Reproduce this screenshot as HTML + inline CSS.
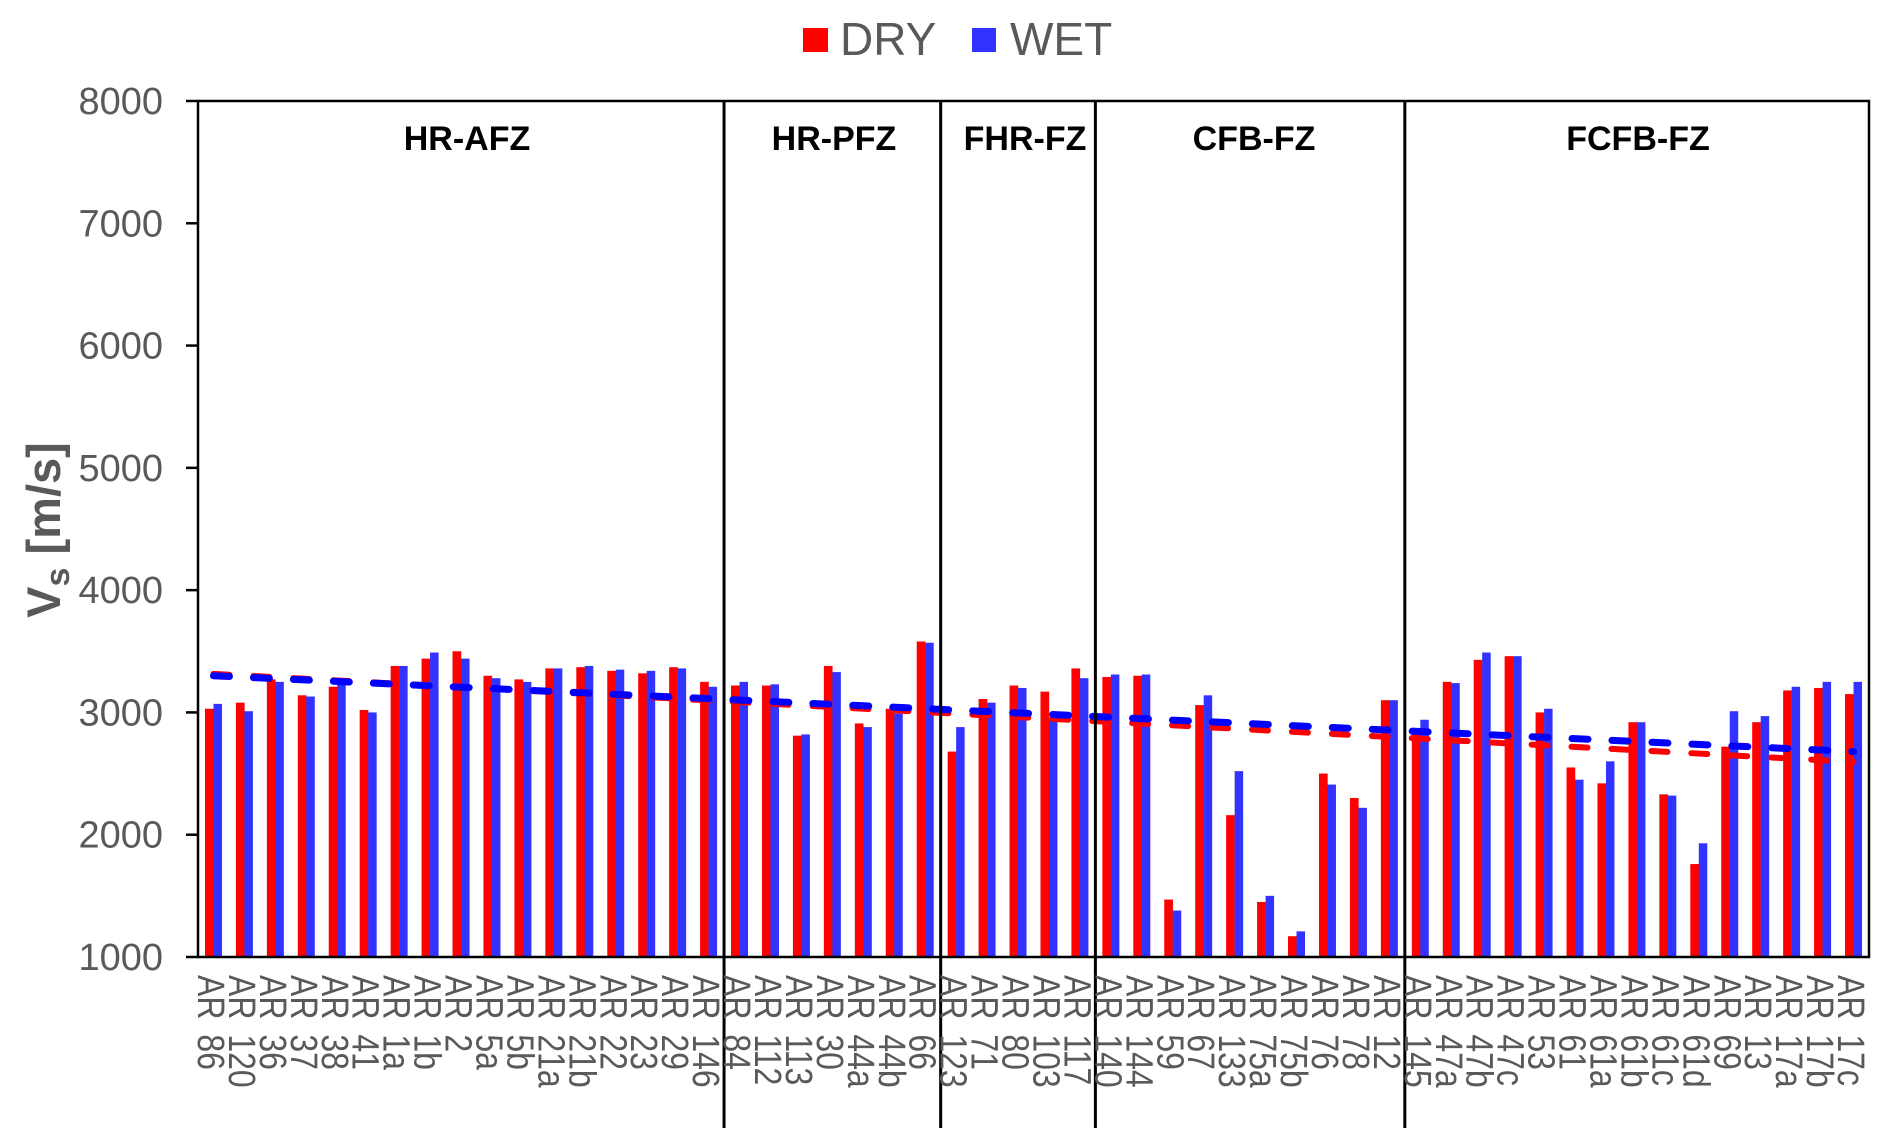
<!DOCTYPE html>
<html><head><meta charset="utf-8"><style>
html,body{margin:0;padding:0;background:#fff;}
svg{display:block;font-family:"Liberation Sans",Arial,sans-serif;}
</style></head><body>
<svg id="c" width="1892" height="1148" viewBox="0 0 1892 1148" xmlns="http://www.w3.org/2000/svg">
<rect width="1892" height="1148" fill="#fff"/>
<rect x="803" y="28" width="25" height="24" fill="#ff0000"/>
<text x="840" y="55" font-size="46" fill="#595959">DRY</text>
<rect x="972" y="28" width="24" height="24" fill="#3333ff"/>
<text x="1010" y="55" font-size="46" fill="#595959">WET</text>
<g id="bars"></g>
<g id="trend"></g>
<rect x="198" y="101" width="1671" height="856" fill="none" stroke="#000" stroke-width="2.5"/>
<g id="ticks"></g>
<g id="labels" font-size="32" fill="#595959"></g>
<g font-size="34" font-weight="bold" text-anchor="middle" fill="#000">
<text x="467" y="150">HR-AFZ</text>
<text x="834" y="150">HR-PFZ</text>
<text x="1025" y="150">FHR-FZ</text>
<text x="1254" y="150">CFB-FZ</text>
<text x="1638" y="150">FCFB-FZ</text>
</g>
<text transform="translate(60,530) rotate(-90)" text-anchor="middle" font-size="47" font-weight="bold" fill="#595959">V<tspan font-size="34" dy="9">s</tspan><tspan dy="-9"> [m/s]</tspan></text>
</svg>
<script>
const names=["86","120","36","37","38","41","1a","1b","2","5a","5b","21a","21b","22","23","29","146","84","112","113","30","44a","44b","66","123","71","80","103","117","140","144","59","67","133","75a","75b","76","78","12","145","47a","47b","47c","53","61","61a","61b","61c","61d","69","13","17a","17b","17c"];
const dry=[3030,3080,3270,3140,3210,3020,3380,3440,3500,3300,3270,3360,3370,3340,3320,3370,3250,3220,3220,2810,3380,2910,3030,3580,2680,3110,3220,3170,3360,3290,3300,1470,3060,2160,1450,1170,2500,2300,3100,2870,3250,3430,3460,3000,2550,2420,2920,2330,1760,2720,2920,3180,3200,3150];
const wet=[3070,3010,3250,3130,3240,3000,3380,3490,3440,3280,3250,3360,3380,3350,3340,3360,3210,3250,3230,2820,3330,2880,2990,3570,2880,3080,3200,2960,3280,3310,3310,1380,3140,2520,1500,1210,2410,2220,3100,2940,3240,3490,3460,3030,2450,2600,2920,2320,1930,3010,2970,3210,3250,3250];
const NS="http://www.w3.org/2000/svg";
const L=198,R=1869,B=957,T=101,n=54,w=(R-L)/n;
const Y=v=>B-(v-1000)*(B-T)/7000;
function el(t,a,p){const e=document.createElementNS(NS,t);for(const k in a)e.setAttribute(k,a[k]);p.appendChild(e);return e;}
const bars=document.getElementById('bars'),lab=document.getElementById('labels'),tk=document.getElementById('ticks'),tr=document.getElementById('trend');
for(let i=0;i<n;i++){const c=L+w*(i+0.5);
el('rect',{x:c-8.5,y:Y(dry[i]),width:8.7,height:B-Y(dry[i]),fill:'#ff0000'},bars);
el('rect',{x:c,y:Y(wet[i]),width:8.5,height:B-Y(wet[i]),fill:'#3333ff'},bars);
const t=el('text',{transform:`translate(${c-2},975) rotate(90) scale(1,1.2)`,dy:'0.35em','word-spacing':'6'},lab);t.textContent='AR '+names[i];}
for(let v=1000;v<=8000;v+=1000){el('line',{x1:186,x2:198,y1:Y(v),y2:Y(v),stroke:'#000','stroke-width':2.5},tk);
const t=el('text',{x:163,y:Y(v)+13,'text-anchor':'end','font-size':38,fill:'#595959'},tk);t.textContent=v;}
[17,24,29,39].forEach(k=>{const x=L+w*k;el('line',{x1:x,x2:x,y1:T,y2:1128,stroke:'#000','stroke-width':3},tk);});
const x0=L+w*0.5,x1=L+w*(n-0.5);
el('line',{x1:x0,x2:x1,y1:Y(3340)+3,y2:Y(2620)+3,stroke:'#ff0000','stroke-width':6,'stroke-dasharray':'16 24','stroke-linecap':'round'},tr);
el('line',{x1:x0,x2:x1,y1:Y(3300),y2:Y(2680),stroke:'#0000ff','stroke-width':7,'stroke-dasharray':'16 24','stroke-linecap':'round'},tr);
</script>
</body></html>
